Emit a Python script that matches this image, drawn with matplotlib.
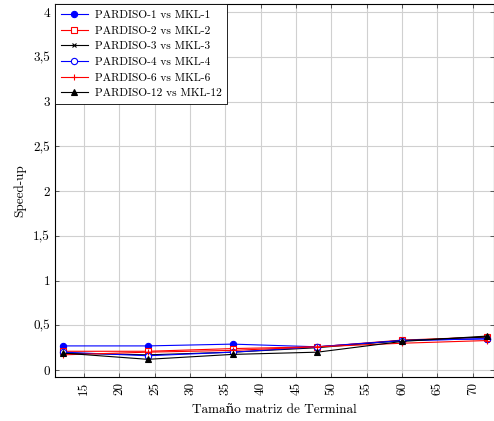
import matplotlib
matplotlib.use("Agg")
import matplotlib.pyplot as plt

plt.rcParams['font.family'] = ['cmr10', 'DejaVu Serif']
plt.rcParams['axes.formatter.use_mathtext'] = True

tamanos = [12, 24, 36, 48, 60, 72]

series_labels = ["PARDISO-1 vs MKL-1", "PARDISO-2 vs MKL-2", "PARDISO-3 vs MKL-3",
                 "PARDISO-4 vs MKL-4", "PARDISO-6 vs MKL-6", "PARDISO-12 vs MKL-12"]
speedup_1 = [0.27, 0.27, 0.29, 0.26, 0.33, 0.35]
speedup_2 = [0.21, 0.21, 0.24, 0.26, 0.335, 0.37]
speedup_3 = [0.19, 0.17, 0.20, 0.25, 0.33, 0.37]
speedup_4 = [0.20, 0.16, 0.20, 0.26, 0.33, 0.35]
speedup_6 = [0.17, 0.20, 0.22, 0.26, 0.30, 0.33]
speedup_12 = [0.19, 0.12, 0.175, 0.20, 0.32, 0.38]

xticks = [15, 20, 25, 30, 35, 40, 45, 50, 55, 60, 65, 70]
yticks = [0, 0.5, 1, 1.5, 2, 2.5, 3, 3.5, 4]
ytick_labels = ["0", "0,5", "1", "1,5", "2", "2,5", "3", "3,5", "4"]

fig = plt.figure(figsize=(4.94, 4.21), dpi=100)
ax = fig.add_axes([0.111, 0.104, 0.889, 0.886])

estilos = [
    dict(color='blue', marker='o', markersize=4.5, mfc='blue'),
    dict(color='red', marker='s', markersize=4.5, mfc='white'),
    dict(color='black', marker='x', markersize=3.5),
    dict(color='blue', marker='o', markersize=4.5, mfc='white'),
    dict(color='red', marker='+', markersize=5),
    dict(color='black', marker='^', markersize=4, mfc='black'),
]
datos = [speedup_1, speedup_2, speedup_3, speedup_4, speedup_6, speedup_12]
for vals, lab, st in zip(datos, series_labels, estilos):
    ax.plot(tamanos, vals, label=lab, linewidth=0.8, markeredgewidth=0.8, **st)

ax.set_xlim(10.85, 73.0)
ax.set_ylim(-0.08, 4.09)
ax.set_xticks(xticks)
ax.set_xticklabels([str(t) for t in xticks], rotation=90)
ax.set_yticks(yticks)
ax.set_yticklabels(ytick_labels)
ax.tick_params(direction='in', length=3, width=0.6, top=True, right=True,
               labelsize=9.5, colors='#444444', labelcolor='black')
ax.grid(True, color='#d0d0d0', linewidth=0.8)
ax.set_axisbelow(True)
for s in ax.spines.values():
    s.set_linewidth(0.8)

ax.set_xlabel("Tamaño matriz de Terminal", fontsize=9.5, labelpad=6)
ax.set_ylabel("Speed-up", fontsize=9.5, labelpad=5)

leg = ax.legend(loc='upper left', borderaxespad=0, fontsize=8.2, fancybox=False,
                edgecolor='black', framealpha=1, handlelength=2.4,
                labelspacing=0.5, borderpad=0.5, handletextpad=0.6)
leg.get_frame().set_linewidth(0.6)

fig.savefig("out.png", dpi=100)
